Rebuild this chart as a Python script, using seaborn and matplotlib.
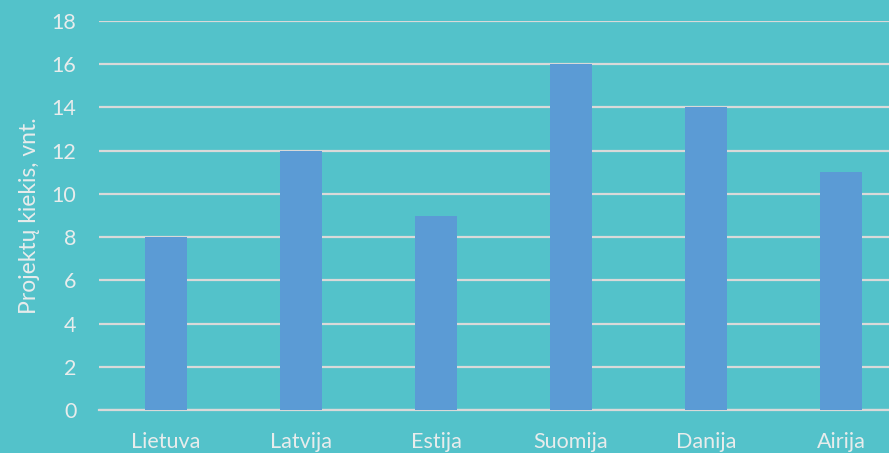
import matplotlib
matplotlib.use("Agg")
import matplotlib.pyplot as plt
import seaborn as sns
import pandas as pd

countries = ["Lietuva", "Latvija", "Estija", "Suomija", "Danija", "Airija"]
projects = [8, 12, 9, 16, 14, 11]
y_ticks = [0, 2, 4, 6, 8, 10, 12, 14, 16, 18]
y_label = "Projektų kiekis, vnt."

bg = "#53C2CA"
bar_color = "#5B9BD5"
text_color = "#E8ECEC"
grid_color = "#D9D9D9"

sns.set_theme(style="white")
plt.rcParams["font.family"] = ["Lato", "DejaVu Sans"]

df = pd.DataFrame({"country": countries, "projects": projects})

fig = plt.figure(figsize=(8.89, 4.53), dpi=100, facecolor=bg)
ax = fig.add_axes([98.5 / 889, 43 / 453, 810 / 889, 389 / 453])
ax.set_facecolor(bg)

sns.barplot(data=df, x="country", y="projects", color=bar_color,
            width=0.31, saturation=1, linewidth=0, ax=ax, zorder=3)

ax.set_ylim(0, 18)
ax.set_xlim(-0.5, len(countries) - 0.5)
ax.set_yticks(y_ticks)
ax.yaxis.grid(True, color=grid_color, linewidth=1.6, zorder=0)
ax.set_axisbelow(True)
for s in ["top", "right", "left"]:
    ax.spines[s].set_visible(False)
ax.spines["bottom"].set_color(grid_color)
ax.spines["bottom"].set_linewidth(1.6)

ax.tick_params(axis="y", length=0, pad=16, labelsize=15.5, labelcolor=text_color)
ax.tick_params(axis="x", length=0, pad=16, labelsize=15.5, labelcolor=text_color)
ax.set_xlabel("")
ax.set_ylabel(y_label, fontsize=16.5, color=text_color)
ax.yaxis.set_label_coords(-58 / 810, 0.5)

fig.savefig("out.png", dpi=100, facecolor=bg)
